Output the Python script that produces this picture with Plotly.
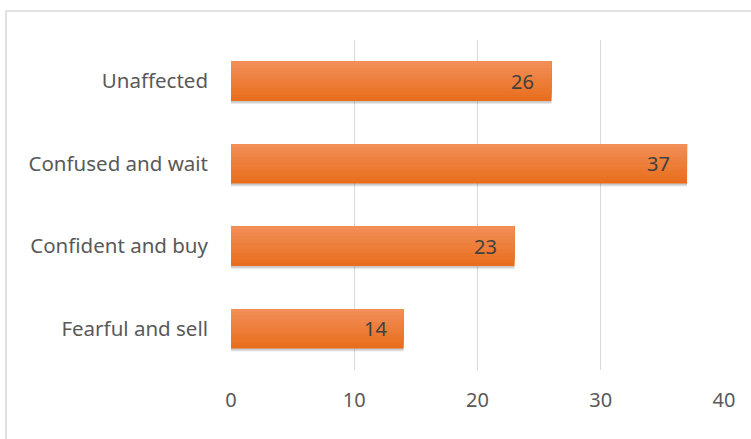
import plotly.graph_objects as go

categories = ["Fearful and sell", "Confident and buy", "Confused and wait", "Unaffected"]
values = [14, 23, 37, 26]
x_ticks = [0, 10, 20, 30, 40]

FONT = "Noto Sans"
BAR_W = 0.48
N_BANDS = 12
top_rgb = (242, 142, 86)
bot_rgb = (232, 110, 30)

fig = go.Figure()
# soft shadow
for k, a in [(0.035, 0.09), (0.022, 0.13)]:
    fig.add_trace(go.Bar(
        y=categories, x=values, orientation="h",
        marker=dict(color=f"rgba(0,0,0,{a})", line=dict(width=0)),
        width=BAR_W, offset=-BAR_W / 2 - k, hoverinfo="skip",
    ))
# gradient: nested layers anchored at the top, darkest (full) first
for j in range(N_BANDS):
    t = 1 - j / (N_BANDS - 1)
    r, g, b = (round(top_rgb[i] + (bot_rgb[i] - top_rgb[i]) * t) for i in range(3))
    w = BAR_W * (N_BANDS - j) / N_BANDS
    fig.add_trace(go.Bar(
        y=categories, x=values, orientation="h",
        marker=dict(color=f"rgb({r},{g},{b})", line=dict(width=0)),
        width=w, offset=BAR_W / 2 - w, hoverinfo="skip",
    ))
for c, v in zip(categories, values):
    fig.add_annotation(x=v, y=c, text=str(v), showarrow=False, xanchor="right",
                       xshift=-15, font=dict(family=FONT, size=20, color="#404040"))

fig.update_layout(
    width=751, height=439,
    margin=dict(l=231, r=27, t=40, b=69),
    paper_bgcolor="white", plot_bgcolor="white",
    showlegend=False, barmode="overlay",
    font=dict(family=FONT, size=20, color="#595959"),
    xaxis=dict(range=[0, 40], tickvals=x_ticks, showgrid=True, gridcolor="#D9D9D9",
               gridwidth=1.3, zeroline=False, showline=False, ticklabelstandoff=16,
               tickfont=dict(family=FONT, size=20, color="#595959")),
    yaxis=dict(categoryorder="array", categoryarray=categories, showgrid=False,
               zeroline=False, showline=False, ticklabelstandoff=22,
               tickfont=dict(family=FONT, size=20.5, color="#595959")),
)
# outer chart border
fig.add_shape(type="rect", xref="paper", yref="paper",
              x0=(6 - 231) / (751 - 231 - 27), x1=(760 - 231) / (751 - 231 - 27),
              y0=(370 - 445) / (370 - 40), y1=(370 - 11) / (370 - 40),
              line=dict(color="#D9D9D9", width=1.5), layer="below")
fig.write_html("out.html")
